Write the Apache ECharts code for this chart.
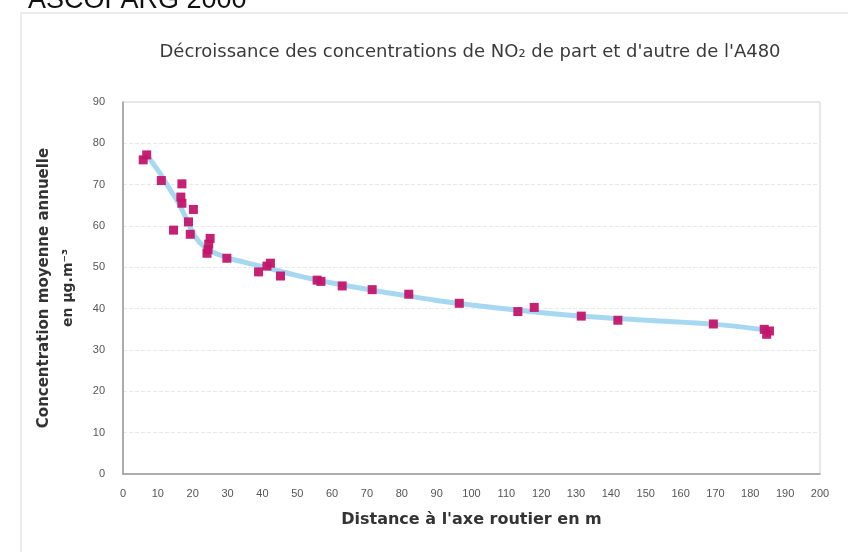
<!DOCTYPE html>
<html>
<head>
<meta charset="utf-8">
<script src="https://cdn.jsdelivr.net/npm/echarts@6/dist/echarts.min.js"></script>
<style>
html,body{margin:0;padding:0;background:#fff;}
#chart{width:848px;height:552px;}
</style>
</head>
<body>
<div id="chart"></div>
<script>
// Measured points (distance in m, concentration in µg/m3)
var pointDistances = [5.8, 6.8, 11, 14.5, 16.9, 16.6, 16.9, 18.8, 19.3, 20.2, 24.1, 24.4, 24.6, 25, 29.8, 38.9, 41.3, 42.3, 45.2, 55.7, 56.8, 62.9, 71.5, 82, 96.5, 113.3, 118, 131.5, 142, 169.4, 184, 184.7, 185.5];
var pointValues    = [76, 77.2, 71, 59, 70.2, 67, 65.5, 61, 58, 64, 53.4, 54.3, 55.6, 57, 52.2, 48.9, 50.3, 51, 47.9, 46.9, 46.6, 45.5, 44.6, 43.5, 41.3, 39.3, 40.3, 38.2, 37.2, 36.3, 35, 33.8, 34.6];

// Trend curve
var curveDistances = [6.5, 10, 13, 16, 18, 20, 22, 25, 30, 35, 40, 50, 60, 70, 80, 90, 100, 115, 130, 150, 170, 185];
var curveValues    = [77.5, 73.5, 69.5, 65.5, 62, 58.5, 56, 54, 52.3, 51.2, 50.2, 48, 46.2, 44.7, 43.3, 42, 40.9, 39.5, 38.3, 37.2, 36.2, 34.8];

var xTicks = {min: 0, max: 200, interval: 10};
var yTicks = {min: 0, max: 90, interval: 10};

var titleText = "Décroissance des concentrations de NO\u2082 de part et d'autre de l'A480";
var xTitle = "Distance à l'axe routier en m";
var yTitle1 = "Concentration moyenne annuelle";
var yTitle2 = "en µg.m\u207B\u00B3";
var headerText = "ASCOPARG 2000";

function pairs(xs, ys){ var out=[]; for(var i=0;i<xs.length;i++){ out.push([xs[i], ys[i]]); } return out; }

var chart = echarts.init(document.getElementById('chart'), null, {renderer:'canvas'});
var font = 'Liberation Sans, Arial, sans-serif';
var wide = '"DejaVu Sans", sans-serif';
chart.setOption({
  animation: false,
  backgroundColor: '#ffffff',
  title: {
    text: titleText,
    left: 465, top: 38, textAlign: 'center',
    textStyle: {fontFamily: wide, fontSize: 18, fontWeight: 'normal', color: '#3a3a3a'}
  },
  grid: {left: 123, right: 28, top: 102, bottom: 78, show: true, borderColor: '#d0d0d0', borderWidth: 1},
  xAxis: {
    type: 'value', min: xTicks.min, max: xTicks.max, interval: xTicks.interval,
    name: xTitle, nameLocation: 'middle', nameGap: 38,
    nameTextStyle: {fontFamily: wide, fontSize: 16, fontWeight: 'bold', color: '#333'},
    axisLine: {show: true, lineStyle: {color: '#999', width: 1.5}},
    axisTick: {show: false},
    axisLabel: {fontFamily: font, fontSize: 11, color: '#555', margin: 14},
    splitLine: {show: false}
  },
  yAxis: {
    type: 'value', min: yTicks.min, max: yTicks.max, interval: yTicks.interval,
    axisLine: {show: true, lineStyle: {color: '#999', width: 1.5}},
    axisTick: {show: false},
    axisLabel: {fontFamily: font, fontSize: 11, color: '#555', margin: 18},
    splitLine: {show: true, lineStyle: {color: '#e8e8e8', type: 'dashed'}}
  },
  graphic: [
    {type: 'rect', shape: {x: 21, y: 13, width: 840, height: 560}, style: {fill: 'none', stroke: '#ececec', lineWidth: 2}, z: -10},
    {type: 'text', x: 28, y: 14, style: {text: headerText, font: '27px ' + font, fill: '#111', textVerticalAlign: 'bottom', textAlign: 'left'}},
    {type: 'text', x: 44, y: 288, rotation: Math.PI/2, style: {text: yTitle1, font: 'bold 15px ' + wide, fill: '#333', textAlign: 'center', textVerticalAlign: 'middle'}},
    {type: 'text', x: 68, y: 288, rotation: Math.PI/2, style: {text: yTitle2, font: 'bold 14px ' + wide, fill: '#333', textAlign: 'center', textVerticalAlign: 'middle'}}
  ],
  series: [
    {
      type: 'line', data: pairs(curveDistances, curveValues), smooth: 0.4,
      showSymbol: false, lineStyle: {color: '#a6d8f2', width: 5}, z: 2, silent: true
    },
    {
      type: 'scatter', data: pairs(pointDistances, pointValues),
      symbol: 'rect', symbolSize: 9, itemStyle: {color: '#c2166c', opacity: 0.95}, z: 3
    }
  ]
});
</script>
</body>
</html>
